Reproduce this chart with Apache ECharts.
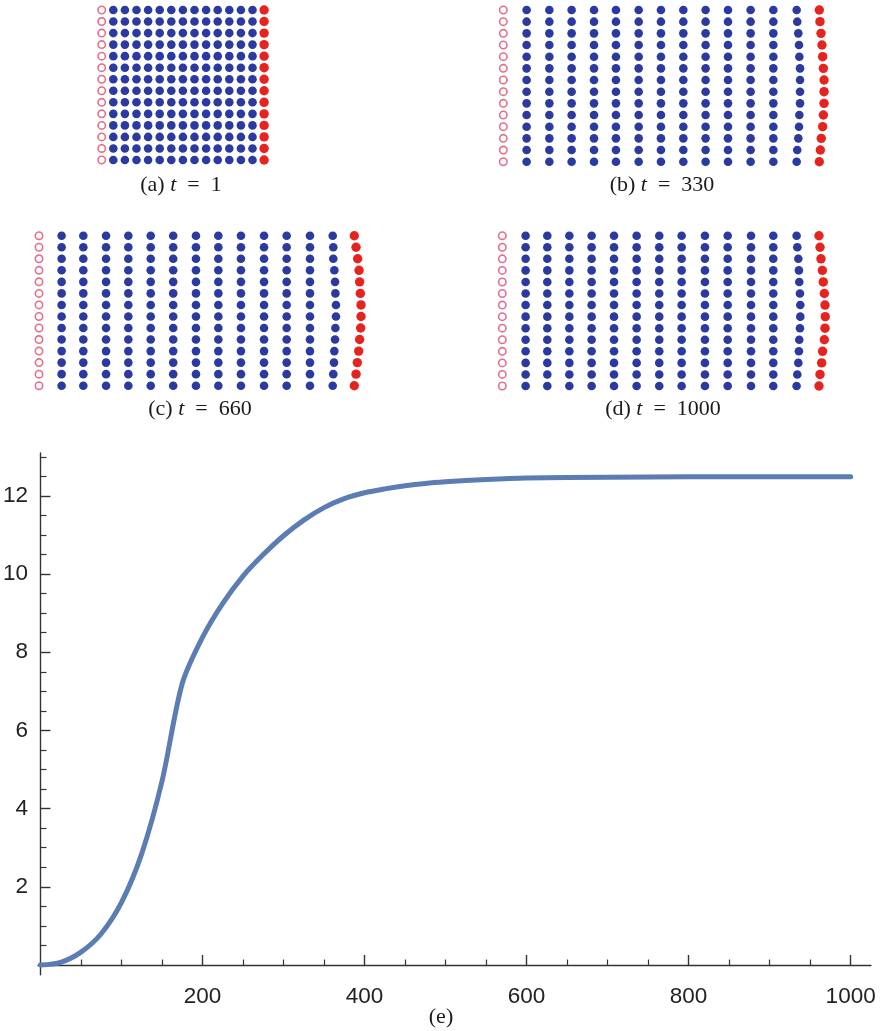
<!DOCTYPE html>
<html><head><meta charset="utf-8">
<script src="https://cdn.jsdelivr.net/npm/echarts@6/dist/echarts.min.js"></script>
<style>html,body{margin:0;padding:0;background:#fff}#c{width:880px;height:1031px}</style>
</head><body><div id="c"></div>
<script>
// ---------- DATA ----------
// lattice rows, listed top to bottom
const rowY = [13, 12, 11, 10, 9, 8, 7, 6, 5, 4, 3, 2, 1, 0];

// panel (a) t = 1
const aOpenX = 0;
const aBlueCols = [1, 2, 3, 4, 5, 6, 7, 8, 9, 10, 11, 12];
const aLastBlueX = [13, 13, 13, 13, 13, 13, 13, 13, 13, 13, 13, 13, 13, 13];
const aRedX = [14, 14, 14, 14, 14, 14, 14, 14, 14, 14, 14, 14, 14, 14];

// panel (b) t = 330
const bOpenX = 0;
const bBlueCols = [2.01, 3.97, 5.89, 7.82, 9.71, 11.67, 13.59, 15.52, 17.44, 19.37, 21.32, 23.28];
const bLastBlueX = [25.29, 25.34, 25.43, 25.49, 25.52, 25.58, 25.58, 25.58, 25.58, 25.52, 25.49, 25.43, 25.34, 25.29];
const bRedX = [27.24, 27.30, 27.39, 27.47, 27.53, 27.59, 27.65, 27.65, 27.65, 27.59, 27.53, 27.41, 27.33, 27.24];

// panel (c) t = 660
const cOpenX = 0;
const cBlueCols = [1.95, 3.82, 5.78, 7.70, 9.63, 11.57, 13.53, 15.46, 17.41, 19.40, 21.35, 23.36];
const cLastBlueX = [25.32, 25.37, 25.37, 25.46, 25.52, 25.55, 25.60, 25.60, 25.55, 25.52, 25.46, 25.43, 25.37, 25.32];
const cRedX = [27.18, 27.33, 27.47, 27.59, 27.64, 27.70, 27.76, 27.76, 27.73, 27.64, 27.56, 27.44, 27.33, 27.18];

// panel (d) t = 1000
const dOpenX = 0;
const dBlueCols = [2.01, 3.88, 5.78, 7.70, 9.63, 11.58, 13.53, 15.46, 17.47, 19.43, 21.44, 23.36];
const dLastBlueX = [25.37, 25.43, 25.52, 25.57, 25.60, 25.66, 25.69, 25.69, 25.66, 25.60, 25.57, 25.52, 25.43, 25.37];
const dRedX = [27.30, 27.39, 27.47, 27.59, 27.67, 27.76, 27.82, 27.84, 27.82, 27.76, 27.61, 27.53, 27.39, 27.30];

const captions = ['(a)', '(b)', '(c)', '(d)'];
const captionTimes = ['1', '330', '660', '1000'];

// panel (e) curve
const curveX = [0, 25, 50, 75, 100, 125, 150, 175, 200, 225, 250, 275, 300, 325, 350, 375, 400, 425, 450, 475, 500, 550, 600, 700, 800, 900, 1000];
const curveY = [0, 0.07, 0.33, 0.8, 1.6, 2.85, 4.7, 7.2, 8.38, 9.25, 9.95, 10.5, 10.98, 11.38, 11.7, 11.93, 12.08, 12.18, 12.26, 12.32, 12.36, 12.42, 12.46, 12.48, 12.49, 12.49, 12.49];

const xMajorTicks = [200, 400, 600, 800, 1000];
const xMinorTicks = [50, 100, 150, 250, 300, 350, 450, 500, 550, 650, 700, 750, 850, 900, 950];
const yMajorTicks = [2, 4, 6, 8, 10, 12];
const yMinorTicks = [0.5, 1, 1.5, 2.5, 3, 3.5, 4.5, 5, 5.5, 6.5, 7, 7.5, 8.5, 9, 9.5, 10.5, 11, 11.5, 12.5, 13];

// ---------- LAYOUT ----------
const panels = [
  {open: aOpenX, blue: aBlueCols, last: aLastBlueX, red: aRedX, grid: {left: 101.7, top: 10, width: 162.4, height: 150}, xmax: 14, cap: {x: 181, y: 185}},
  {open: bOpenX, blue: bBlueCols, last: bLastBlueX, red: bRedX, grid: {left: 503.3, top: 10, width: 324.8, height: 151.7}, xmax: 28, cap: {x: 662, y: 185}},
  {open: cOpenX, blue: cBlueCols, last: cLastBlueX, red: cRedX, grid: {left: 39, top: 235.7, width: 324.8, height: 150}, xmax: 28, cap: {x: 200, y: 409}},
  {open: dOpenX, blue: dBlueCols, last: dLastBlueX, red: dRedX, grid: {left: 502.3, top: 235.7, width: 324.8, height: 150.3}, xmax: 28, cap: {x: 663, y: 409}}
];

const BLUE = '#2b3aa0', RED = '#e52420', PINK = '#e4708a', LINE = '#5b7db3', AX = '#333';

const grids = [], xAxes = [], yAxes = [], series = [], graphics = [];
panels.forEach((p, k) => {
  grids.push(Object.assign({}, p.grid));
  xAxes.push({type: 'value', gridIndex: k, min: 0, max: p.xmax, show: false});
  yAxes.push({type: 'value', gridIndex: k, min: 0, max: 13, show: false});
  const openPts = rowY.map(y => [p.open, y]);
  const bluePts = [];
  p.blue.forEach(x => rowY.forEach(y => bluePts.push([x, y])));
  rowY.forEach((y, i) => bluePts.push([p.last[i], y]));
  const redPts = rowY.map((y, i) => [p.red[i], y]);
  series.push({type: 'scatter', xAxisIndex: k, yAxisIndex: k, data: openPts, symbolSize: 7.4, clip: false, silent: true,
    itemStyle: {color: '#fff', borderColor: PINK, borderWidth: 1.6, opacity: 1}});
  series.push({type: 'scatter', xAxisIndex: k, yAxisIndex: k, data: bluePts, symbolSize: 8.6, clip: false, silent: true,
    itemStyle: {color: BLUE, opacity: 1}});
  series.push({type: 'scatter', xAxisIndex: k, yAxisIndex: k, data: redPts, symbolSize: 9.4, clip: false, silent: true,
    itemStyle: {color: RED, opacity: 1}});
  graphics.push({type: 'text', x: p.cap.x, y: p.cap.y, style: {
    text: '{n|' + captions[k] + ' }{i|t}{n|\u2002=\u2002' + captionTimes[k] + '}',
    align: 'center', verticalAlign: 'middle',
    rich: {n: {fontFamily: 'Liberation Serif', fontSize: 22, fill: '#1a1a1a'},
           i: {fontFamily: 'Liberation Serif', fontSize: 22, fontStyle: 'italic', fill: '#1a1a1a'}}
  }});
});

// panel (e)
const eg = grids.length;
grids.push({left: 34.1, top: 452.9, width: 836.8, height: 521.9});
const labelFont = {fontFamily: 'Liberation Sans', fontSize: 22.5, color: '#222', formatter: v => String(v)};
xAxes.push({type: 'value', gridIndex: eg, min: -3, max: 1025, position: 'bottom',
  axisLine: {show: true, onZero: true, lineStyle: {color: AX, width: 1.4}},
  axisTick: {show: true, inside: true, length: 10, customValues: xMajorTicks, lineStyle: {color: AX, width: 1.4}},
  axisLabel: Object.assign({show: true, customValues: xMajorTicks, margin: 10}, labelFont),
  splitLine: {show: false}});
xAxes.push({type: 'value', gridIndex: eg, min: -3, max: 1025, position: 'bottom',
  axisLine: {show: false, onZero: true},
  axisTick: {show: true, inside: true, length: 5.5, customValues: xMinorTicks, lineStyle: {color: AX, width: 1.2}},
  axisLabel: {show: false, customValues: xMinorTicks},
  splitLine: {show: false}});
yAxes.push({type: 'value', gridIndex: eg, min: -0.25, max: 13.1, position: 'left',
  axisLine: {show: true, onZero: true, lineStyle: {color: AX, width: 1.4}},
  axisTick: {show: true, inside: true, length: 10, customValues: yMajorTicks, lineStyle: {color: AX, width: 1.4}},
  axisLabel: Object.assign({show: true, customValues: yMajorTicks, margin: 10}, labelFont),
  splitLine: {show: false}});
yAxes.push({type: 'value', gridIndex: eg, min: -0.25, max: 13.1, position: 'left',
  axisLine: {show: false, onZero: true},
  axisTick: {show: true, inside: true, length: 6, customValues: yMinorTicks, lineStyle: {color: AX, width: 1.2}},
  axisLabel: {show: false, customValues: yMinorTicks},
  splitLine: {show: false}});
series.push({type: 'line', xAxisIndex: xAxes.length - 2, yAxisIndex: yAxes.length - 2,
  data: curveX.map((x, i) => [x, curveY[i]]), smooth: 0.3, showSymbol: false, silent: true,
  lineStyle: {color: LINE, width: 5, cap: 'round'}});
graphics.push({type: 'text', x: 441, y: 1017, style: {text: '(e)', align: 'center', verticalAlign: 'middle',
  fontFamily: 'Liberation Serif', fontSize: 22, fill: '#1a1a1a'}});

const chart = echarts.init(document.getElementById('c'), null, {renderer: 'canvas'});
chart.setOption({
  animation: false,
  backgroundColor: '#fff',
  grid: grids, xAxis: xAxes, yAxis: yAxes, series: series,
  graphic: graphics
});
</script></body></html>
